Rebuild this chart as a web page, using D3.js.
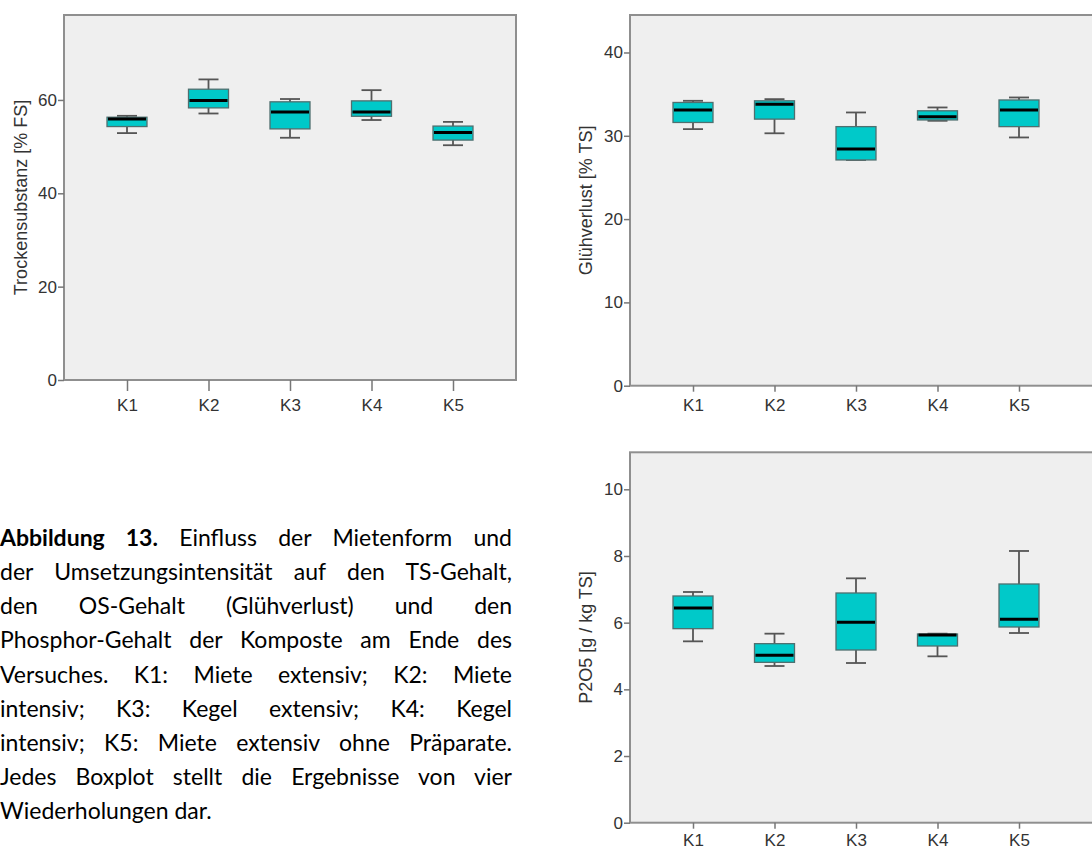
<!DOCTYPE html>
<html lang="de">
<head>
<meta charset="UTF-8">
<title>Abbildung 13</title>
<script src="https://d3js.org/d3.v7.min.js"></script>
<style>
  body { margin: 0; background: #fff; }
  #wrap { position: relative; width: 1092px; height: 851px; overflow: hidden; }
  svg { position: absolute; left: 0; top: 0; }
  .axis text { font-family: "Liberation Sans", Arial, sans-serif; font-size: 17px; fill: #333; }
  .axis line { stroke: #777; stroke-width: 1.5; }
  .axis .domain { display: none; }
  .ytitle { font-family: "Liberation Sans", Arial, sans-serif; font-size: 18px; fill: #333; }
  #caption {
    position: absolute; left: 0; top: 520px; width: 512px;
    font-family: Lato, "Open Sans", sans-serif; font-size: 22px; line-height: 34.15px; color: #000;
  }
  #caption div { text-align: justify; text-align-last: justify; white-space: nowrap; }
  #caption div.last { text-align-last: left; }
</style>
</head>
<body>
<div id="wrap">
<svg id="chart" width="1092" height="851"></svg>
<div id="caption"></div>
</div>
<script>
// categories (compost variants)
const categories = ["K1", "K2", "K3", "K4", "K5"];

// five-number summaries per variant: [min, q1, median, q3, max]
const trockensubstanz = [
  [52.9, 54.3, 55.9, 56.3, 56.6],
  [57.1, 58.3, 59.9, 62.3, 64.4],
  [51.9, 53.8, 57.4, 59.6, 60.2],
  [55.7, 56.5, 57.4, 59.8, 62.1],
  [50.3, 51.4, 53.0, 54.4, 55.3]
];
const gluehverlust = [
  [30.8, 31.6, 33.1, 34.0, 34.2],
  [30.3, 32.0, 33.8, 34.2, 34.4],
  [27.1, 27.1, 28.4, 31.1, 32.8],
  [31.8, 31.9, 32.3, 33.0, 33.4],
  [29.8, 31.1, 33.1, 34.3, 34.6]
];
const p2o5 = [
  [5.44, 5.82, 6.44, 6.80, 6.92],
  [4.70, 4.81, 5.02, 5.37, 5.67],
  [4.79, 5.18, 6.01, 6.89, 7.33],
  [4.99, 5.30, 5.63, 5.66, 5.67],
  [5.69, 5.87, 6.10, 7.16, 8.15]
];

// y tick labels
const tsTicks = [0, 20, 40, 60];
const gvTicks = [0, 10, 20, 30, 40];
const pTicks = [0, 2, 4, 6, 8, 10];

const captionLines = [
  ["Abbildung 13.", " Einfluss der Mietenform und"],
  ["", "der Umsetzungsintensität auf den TS-Gehalt,"],
  ["", "den OS-Gehalt (Glühverlust) und den"],
  ["", "Phosphor-Gehalt der Komposte am Ende des"],
  ["", "Versuches. K1: Miete extensiv; K2: Miete"],
  ["", "intensiv; K3: Kegel extensiv; K4: Kegel"],
  ["", "intensiv; K5: Miete extensiv ohne Präparate."],
  ["", "Jedes Boxplot stellt die Ergebnisse von vier"],
  ["", "Wiederholungen dar."]
];

const svg = d3.select("#chart");

function drawPanel(opt) {
  const g = svg.append("g").attr("transform", `translate(${opt.left},${opt.top})`);
  const x = d3.scalePoint().domain(categories).range([0, 452]).padding(0.773);
  const y = d3.scaleLinear().domain([0, opt.yMax]).range([opt.height, 0]);

  g.append("rect")
    .attr("x", 0).attr("y", 0)
    .attr("width", opt.frameWidth).attr("height", opt.height)
    .attr("fill", "#efefef")
    .attr("stroke", "#8f8f8f")
    .attr("stroke-width", 2);

  g.append("g").attr("class", "axis")
    .call(d3.axisLeft(y).tickValues(opt.ticks).tickSize(6).tickPadding(1).tickSizeOuter(0));

  g.append("g").attr("class", "axis")
    .attr("transform", `translate(0,${opt.height})`)
    .call(d3.axisBottom(x).tickSize(opt.xTick).tickPadding(opt.xPad).tickSizeOuter(0));

  const boxW = 40, capW = 20;
  const boxes = g.selectAll("g.box").data(opt.data).join("g").attr("class", "box")
    .attr("transform", (d, i) => `translate(${x(categories[i])},0)`);

  boxes.append("line")
    .attr("x1", 0).attr("x2", 0)
    .attr("y1", d => y(d[0])).attr("y2", d => y(d[4]))
    .attr("stroke", "#555").attr("stroke-width", 1.8);
  boxes.append("line")
    .attr("x1", -capW / 2).attr("x2", capW / 2)
    .attr("y1", d => y(d[0])).attr("y2", d => y(d[0]))
    .attr("stroke", "#555").attr("stroke-width", 1.8);
  boxes.append("line")
    .attr("x1", -capW / 2).attr("x2", capW / 2)
    .attr("y1", d => y(d[4])).attr("y2", d => y(d[4]))
    .attr("stroke", "#555").attr("stroke-width", 1.8);
  boxes.append("rect")
    .attr("x", -boxW / 2).attr("width", boxW)
    .attr("y", d => y(d[3]))
    .attr("height", d => y(d[1]) - y(d[3]))
    .attr("fill", "#00c9c9")
    .attr("stroke", "#4f6f6f")
    .attr("stroke-width", 1.3);
  boxes.append("line")
    .attr("x1", -boxW / 2 + 1).attr("x2", boxW / 2 - 1)
    .attr("y1", d => y(d[2])).attr("y2", d => y(d[2]))
    .attr("stroke", "#000").attr("stroke-width", 3);

  svg.append("text")
    .attr("class", "ytitle")
    .attr("transform", `translate(${opt.titleX},${opt.top + opt.height / 2}) rotate(-90)`)
    .attr("text-anchor", "middle")
    .attr("dy", "0.35em")
    .text(opt.title);
}

drawPanel({ left: 64, top: 15, height: 365, frameWidth: 452, yMax: 78.2, ticks: tsTicks,
  data: trockensubstanz, title: "Trockensubstanz [% FS]", titleX: 21, xTick: 11, xPad: 8 });
drawPanel({ left: 630, top: 15, height: 370.7, frameWidth: 480, yMax: 44.5, ticks: gvTicks,
  data: gluehverlust, title: "Glühverlust [% TS]", titleX: 586, xTick: 6, xPad: 7 });
drawPanel({ left: 630, top: 452.3, height: 370.4, frameWidth: 480, yMax: 11.11, ticks: pTicks,
  data: p2o5, title: "P2O5 [g / kg TS]", titleX: 586, xTick: 6, xPad: 5.5 });

const cap = d3.select("#caption");
const rows = captionLines.map((ln, i) => {
  const row = cap.append("div").attr("class", i === captionLines.length - 1 ? "last" : null);
  if (ln[0]) row.append("b").text(ln[0]);
  row.append("span").text(ln[1]);
  return row;
});

// shrink the caption font until the widest natural line fits the column
let fs = 23;
function widest() {
  return d3.max(rows, r => {
    const probe = r.clone(true).style("display", "inline-block").style("text-align-last", "left");
    const w = probe.node().getBoundingClientRect().width;
    probe.remove();
    return w;
  });
}
cap.style("font-size", fs + "px");
while (widest() > 511 && fs > 14) {
  fs -= 0.25;
  cap.style("font-size", fs + "px");
}
cap.style("top", (546 - 17.07 - 0.387 * fs) + "px");
</script>
</body>
</html>
